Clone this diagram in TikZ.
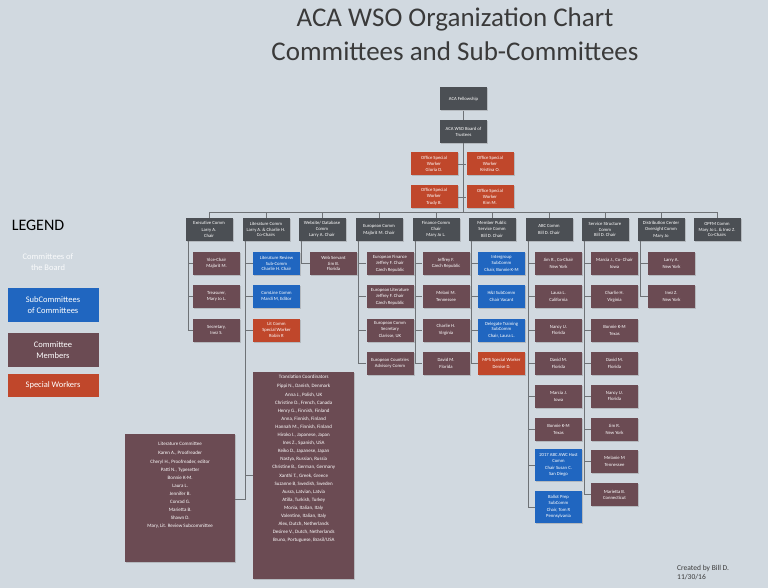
\documentclass[tikz,border=0pt]{standalone}
\usepackage{fontspec}
\setmainfont{Carlito}
\usetikzlibrary{shadows}
\definecolor{bg}{HTML}{D1D9E0}
\definecolor{cgray}{HTML}{4B4F54}
\definecolor{cred}{HTML}{C0472B}
\definecolor{cblue}{HTML}{2066C0}
\definecolor{cmar}{HTML}{6B4B53}
\definecolor{ctitle}{HTML}{3A3A3A}
\definecolor{cline}{HTML}{6E7276}
\tikzset{
 bb/.style={draw=none,text=white,align=center,inner sep=1pt,minimum width=47pt,minimum height=23pt,
   font=\fontsize{4.7}{5.8}\selectfont,drop shadow={shadow xshift=1pt,shadow yshift=-1pt,opacity=0.35}},
 gb/.style={bb,fill=cgray},
 rb/.style={bb,fill=cred},
 ub/.style={bb,fill=cblue},
 mb/.style={bb,fill=cmar},
 ln/.style={draw=cline,line width=0.9pt},
}
\begin{document}
\begin{tikzpicture}[x=1pt,y=-1pt]
\fill[bg] (0,0) rectangle (768,588);
\useasboundingbox (0,0) rectangle (768,588);
% titles
\node[text=ctitle,font=\fontsize{27}{30}\selectfont] (t1) at (455,19) {ACA WSO Organization Chart};
\node[text=ctitle,font=\fontsize{27}{30}\selectfont] (t2) at (455,51) {Committees and Sub-Committees};
% top
\node[gb] (fel) at (463.5,99) {ACA Fellowship};
\node[gb] (board) at (463.5,131.5) {ACA WSO Board of\\Trustees};
\node[rb] (s1) at (434,164) {Office Special\\Worker\\[1pt]Gloria D.};
\node[rb] (s2) at (490,164) {Office Special\\Worker\\[1pt]Kristina O.};
\node[rb] (s3) at (434,197) {Office Special\\Worker\\[1pt]Trudy B.};
\node[rb] (s4) at (490,197) {Office Special\\Worker\\[1pt]Kim M.};
\coordinate (bus) at (463.5,212);
% committees
\node[gb] (exe) at (209,229.5) {Executive Comm\\[1pt]Larry A.\\Chair};
\node[gb] (lit) at (266,229.5) {Literature Comm\\Larry A. \& Charlie H.\\Co-Chairs};
\node[gb] (web) at (322,229.5) {Website/ Database\\Comm\\Larry A. Chair};
\node[gb] (eur) at (379,229.5) {European Comm\\[1pt]Majbrit M. Chair};
\node[gb] (fin) at (436,229.5) {Finance Comm\\Chair\\Mary Jo L.};
\node[gb] (mem) at (492,229.5) {Member Public\\Service Comm\\[1pt]Bill D. Chair};
\node[gb] (abc) at (549,229.5) {ABC Comm\\[1pt]Bill D. Chair};
\node[gb] (ser) at (605,229.5) {Service Structure\\Comm\\Bill D. Chair};
\node[gb] (dis) at (661,229.5) {Distribution Center\\Oversight Comm\\[1pt]Mary Jo};
\node[gb] (opf) at (717,229.5) {OPFM Comm\\Mary Jo L. \& Inez Z.\\Co-Chairs};
% bus lines
\draw[ln] (fel.south) -- (board.north);
\draw[ln] (board.south) -- (bus);
\draw[ln] (s1.east) -- (s2.west);
\draw[ln] (s3.east) -- (s4.west);
\draw[ln] (exe.north |- bus) -- (opf.north |- bus);
\foreach \c in {exe,lit,web,eur,fin,mem,abc,ser,dis,opf}{\draw[ln] (\c.north) -- (\c.north |- bus);}
% executive
\node[mb] (e1) at (216.5,263.5) {Vice-Chair\\Majbrit M.};
\node[mb] (e2) at (216.5,296.5) {Treasurer,\\Mary Jo L.};
\node[mb] (e3) at (216.5,330) {Secretary,\\Inez S.};
\foreach \c in {e1,e2,e3}{\draw[ln] ([xshift=3pt]exe.south west) |- (\c.west);}
% literature
\node[ub] (l1) at (276.5,263.5) {Literature Review\\Sub-Comm\\Charlie H. Chair};
\node[ub] (l2) at (276.5,296.5) {ComLine Comm\\Mardi M, Editor};
\node[rb] (l3) at (276.5,330) {Lit Comm\\Special Worker\\Robin R};
\foreach \c in {l1,l2,l3}{\draw[ln] ([xshift=3pt]lit.south west) |- (\c.west);}
\node[mb,minimum width=101pt,minimum height=207pt,anchor=north west,font=\fontsize{5}{8.1}\selectfont] (tr) at (253,372) {Translation Coordinators\\[1pt]Pippi N., Danish, Denmark\\Anna J., Polish, UK\\Christine D., French, Canada\\Henry G., Finnish, Finland\\Anna, Finnish, Finland\\Hannah M., Finnish, Finland\\Hiroko I., Japanese, Japan\\Ines Z., Spanish, USA\\Keiko D., Japanese, Japan\\Nastya, Russian, Russia\\Christine B., German, Germany\\Xanthi T., Greek, Greece\\Suzanne B, Swedish, Sweden\\Ausra, Latvian, Latvia\\Atilla, Turkish, Turkey\\Monia, Italian, Italy\\Valentine, Italian, Italy\\Alex, Dutch, Netherlands\\Desiree V., Dutch, Netherlands\\Bruno, Portuguese, Brasil/USA\\[26pt]};
\node[mb,minimum width=110pt,minimum height=128pt,anchor=north west,font=\fontsize{5}{8.1}\selectfont] (lc) at (125,434) {Literature Committee\\[1pt]Karen A., Proofreader\\Cheryl H., Proofreader, editor\\Patti N., Typesetter\\Bonnie K-M.\\Laura L.\\Jennifer B.\\Conrad G.\\Marietta B.\\Shawn D.\\Mary, Lit. Review Subcommittee\\[18pt]};
\draw[ln] ([xshift=3pt]lit.south west) |- (tr.west);
\draw[ln] ([xshift=3pt]lit.south west) |- ([yshift=-1pt]lc.east);
% website
\node[mb] (w1) at (333.5,263.5) {Web Servant\\Jim B.\\Florida};
\draw[ln] ([xshift=3pt]web.south west) |- (w1.west);
% european
\node[mb] (u1) at (390,263.5) {European Finance\\Jeffrey F. Chair\\[1pt]Czech Republic};
\node[mb] (u2) at (390,296.5) {European Literature\\Jeffrey F. Chair\\[1pt]Czech Republic};
\node[mb] (u3) at (390,330) {European Comm\\Secretary\\[1pt]Clarisse, UK};
\node[mb] (u4) at (390,363) {European Countries\\Advisory Comm};
\foreach \c in {u1,u2,u3,u4}{\draw[ln] ([xshift=3pt]eur.south west) |- (\c.west);}
% finance
\node[mb] (f1) at (446,263.5) {Jeffrey F.\\Czech Republic};
\node[mb] (f2) at (446,296.5) {Melani M.\\[1pt]Tennessee};
\node[mb] (f3) at (446,330) {Charlie H.\\[1pt]Virginia};
\node[mb] (f4) at (446,363) {David M.\\[1pt]Florida};
\foreach \c in {f1,f2,f3,f4}{\draw[ln] ([xshift=3pt]fin.south west) |- (\c.west);}
% member
\node[ub] (m1) at (501.5,263.5) {Intergroup\\SubComm\\[1pt]Chair, Bonnie K-M};
\node[ub] (m2) at (501.5,296.5) {H\&I SubComm\\[1pt]Chair Vacant};
\node[ub] (m3) at (501.5,330) {Delegate Training\\SubComm\\[1pt]Chair, Laura L.};
\node[rb] (m4) at (501.5,363) {MPS Special Worker\\[1pt]Denise D.};
\foreach \c in {m1,m2,m3,m4}{\draw[ln] ([xshift=3pt]mem.south west) |- (\c.west);}
% ABC
\node[mb] (a1) at (558.5,263.5) {Jim R., Co-Chair\\[1pt]New York};
\node[mb] (a2) at (558.5,296.5) {Laura L.\\[1pt]California};
\node[mb] (a3) at (558.5,330) {Nancy U.\\[1pt]Florida};
\node[mb] (a4) at (558.5,363) {David M.\\[1pt]Florida};
\node[mb] (a5) at (558.5,396) {Marcia J.\\[1pt]Iowa};
\node[mb] (a6) at (558.5,429) {Bonnie K-M\\[1pt]Texas};
\node[ub,minimum height=32pt] (a7) at (558.5,465) {2017 ABC AWC Host\\Comm\\[1pt]Chair Susan C.\\[1pt]San Diego};
\node[ub,minimum height=32pt] (a8) at (558.5,507) {Ballot Prep\\SubComm\\[1pt]Chair, Tom R\\[1pt]Pennsylvania};
\foreach \c in {a1,a2,a3,a4,a5,a6,a7,a8}{\draw[ln] ([xshift=3pt]abc.south west) |- (\c.west);}
% service
\node[mb] (v1) at (614.5,263.5) {Marcia J., Co- Chair\\[1pt]Iowa};
\node[mb] (v2) at (614.5,296.5) {Charlie H.\\[1pt]Virginia};
\node[mb] (v3) at (614.5,330) {Bonnie K-M\\[1pt]Texas};
\node[mb] (v4) at (614.5,363) {David M.\\[1pt]Florida};
\node[mb] (v5) at (614.5,396) {Nancy U.\\[1pt]Florida};
\node[mb] (v6) at (614.5,429) {Jim R.\\[1pt]New York};
\node[mb] (v7) at (614.5,461.5) {Melanie M\\[1pt]Tennessee};
\node[mb] (v8) at (614.5,494.5) {Marietta B.\\Connecticut};
\foreach \c in {v1,v2,v3,v4,v5,v6,v7,v8}{\draw[ln] ([xshift=3pt]ser.south west) |- (\c.west);}
% distribution
\node[mb] (d1) at (671.5,263.5) {Larry A.\\[1pt]New York};
\node[mb] (d2) at (671.5,296.5) {Inez Z.\\[1pt]New York};
\foreach \c in {d1,d2}{\draw[ln] ([xshift=3pt]dis.south west) |- (\c.west);}
% legend
\node[text=black,font=\fontsize{16}{18}\selectfont] (lg) at (38,225) {LEGEND};
\node[text=white!90!bg,align=center,font=\fontsize{8.5}{10.5}\selectfont] (lg1) at (48,262) {Committees of\\the Board};
\node[fill=cblue,text=white,align=center,minimum width=91pt,minimum height=34pt,inner sep=1pt,font=\fontsize{8.5}{10.5}\selectfont] (lg2) at (53,305) {SubCommittees\\of Committees};
\node[fill=cmar,text=white,align=center,minimum width=91pt,minimum height=34pt,inner sep=1pt,font=\fontsize{8.5}{10.5}\selectfont] (lg3) at (53,350) {Committee\\Members};
\node[fill=cred,text=white,align=center,minimum width=91pt,minimum height=23pt,inner sep=1pt,font=\fontsize{8.5}{10.5}\selectfont] (lg4) at (53,385) {Special Workers};
% credit
\node[anchor=north west,align=left,text=ctitle,font=\fontsize{7.5}{9}\selectfont,inner sep=0pt] (cr) at (677,565) {Created by Bill D.\\11/30/16};
\end{tikzpicture}
\end{document}
